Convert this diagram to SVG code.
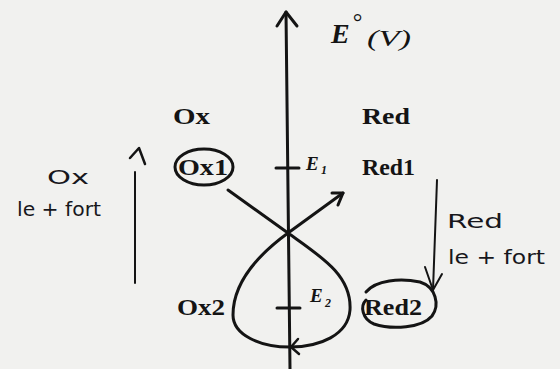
<svg xmlns="http://www.w3.org/2000/svg" width="560" height="369" viewBox="0 0 560 369">
<style>
.ink{stroke:#141414;fill:none;stroke-linecap:round;stroke-linejoin:round}
.pr{font-family:"Liberation Serif","Times New Roman",serif;font-weight:bold;font-size:24px;fill:#141414}
.it{font-family:"Liberation Serif","Times New Roman",serif;font-style:italic;font-weight:bold;fill:#141414}
.itn{font-family:"Liberation Serif","Times New Roman",serif;font-style:italic;font-weight:normal;fill:#141414}
.hw{font-family:"DejaVu Sans","Liberation Sans",sans-serif;font-size:20px;fill:#17171c}
</style>
<rect x="0" y="0" width="560" height="369" fill="#f1f1ef"/>
<g id="axis">
<line class="ink" x1="286" y1="12" x2="290" y2="369" stroke-width="3"/>
<path class="ink" d="M277,26 L286,12 L297,26" stroke-width="3"/>
<text class="it" x="331" y="43" font-size="28">E</text>
<text class="itn" x="352" y="30" font-size="24">°</text>
<text class="itn" x="367" y="46" font-size="24" textLength="44" lengthAdjust="spacingAndGlyphs">(V)</text>
</g>
<g id="E1">
<line class="ink" x1="276" y1="168" x2="299" y2="168" stroke-width="3"/>
<text class="it" x="306" y="170" font-size="19">E</text>
<text class="it" x="321" y="174" font-size="12">1</text>
</g>
<g id="E2">
<line class="ink" x1="277" y1="308" x2="300" y2="308" stroke-width="3"/>
<text class="it" x="310" y="302" font-size="19">E</text>
<text class="it" x="325" y="307" font-size="12">2</text>
</g>
<g id="Ox"><text class="pr" x="173" y="124" textLength="37" lengthAdjust="spacingAndGlyphs">Ox</text></g>
<g id="Red"><text class="pr" x="362" y="124" textLength="48" lengthAdjust="spacingAndGlyphs">Red</text></g>
<g id="Ox1">
<text class="pr" x="178" y="175" textLength="50" lengthAdjust="spacingAndGlyphs">Ox1</text>
<ellipse class="ink" cx="204" cy="167" rx="29" ry="18" stroke-width="3"/>
</g>
<g id="Red1"><text class="pr" x="362" y="175" textLength="53" lengthAdjust="spacingAndGlyphs">Red1</text></g>
<g id="Ox2"><text class="pr" x="177" y="315" textLength="48" lengthAdjust="spacingAndGlyphs">Ox2</text></g>
<g id="Red2">
<text class="pr" x="364" y="315" textLength="58" lengthAdjust="spacingAndGlyphs">Red2</text>
<path class="ink" stroke-width="3" d="M366,292 C376,280 400,278 420,282 C436,287 440,305 432,316 C422,328 392,330 374,324 C362,319 360,306 366,300"/>
</g>
<g id="connectors">
<path class="ink" stroke-width="3" d="M228,190 L288,233 C320,256 352,275 350,310 C348,335 320,347 290,347 C260,347 233,335 233,315 C233,280 262,252 288,233 L343,193"/>
<path class="ink" stroke-width="3" d="M332,193 L343,193 L338,205"/>
<path class="ink" stroke-width="2.5" d="M298,339 L291,347 L299,354"/>
</g>
<g id="note-ox">
<path class="ink" stroke-width="2" d="M135,172 L135,283"/>
<path class="ink" stroke-width="2.5" d="M130,158 L139,148 L145,164"/>
<text class="hw" x="47" y="184" textLength="42" lengthAdjust="spacingAndGlyphs">Ox</text>
<text class="hw" x="17" y="216" textLength="84" lengthAdjust="spacingAndGlyphs">le + fort</text>
</g>
<g id="note-red">
<path class="ink" stroke-width="2" d="M437,180 L433,290"/>
<path class="ink" stroke-width="2" d="M425,267 L433,290 L442,274"/>
<text class="hw" x="447" y="228" textLength="56" lengthAdjust="spacingAndGlyphs">Red</text>
<text class="hw" x="448" y="264" textLength="97" lengthAdjust="spacingAndGlyphs">le + fort</text>
</g>
</svg>
